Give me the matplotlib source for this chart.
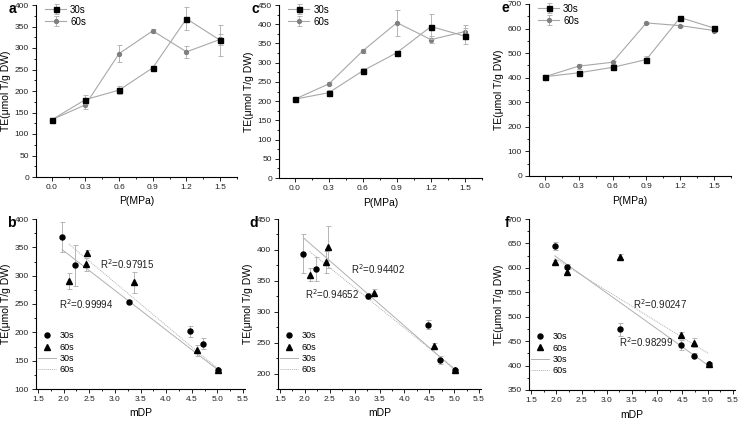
import matplotlib.pyplot as plt
from matplotlib.ticker import MultipleLocator
import numpy as np

plt.rcParams['font.family'] = ['Liberation Sans', 'DejaVu Sans']

# pressure (MPa), shared by the three top panels
pressure = [0.0, 0.3, 0.6, 0.9, 1.2, 1.5]

# panel a / b
a_30 = [133, 180, 202, 254, 368, 318]
a_30_err = [3, 10, 10, 3, 27, 36]
a_60 = [133, 168, 287, 340, 291, 320]
a_60_err = [3, 10, 19, 5, 14, 12]
b_mdp_30 = [5.02, 4.72, 4.47, 3.27, 1.97, 2.22]
b_mdp_60 = [5.02, 4.60, 3.38, 2.46, 2.10, 2.43]
b_y60 = [133, 168, 288, 340, 291, 320]
b_err_60 = [3, 10, 19, 6, 14, 12]
b_fit_30 = (-69.8, 483.5)   # slope, intercept
b_fit_60 = (-75.7, 515.0)
b_r2 = ["R$^2$=0.99994", "R$^2$=0.97915"]

# panel c / d
c_30 = [205, 222, 279, 326, 394, 369]
c_30_err = [3, 7, 7, 5, 32, 20]
c_60 = [205, 245, 331, 404, 360, 381]
c_60_err = [3, 4, 5, 34, 10, 18]
d_mdp_30 = [5.02, 4.72, 4.47, 3.27, 1.97, 2.22]
d_mdp_60 = [5.02, 4.60, 3.38, 2.46, 2.10, 2.43]
d_fit_30 = (-70.2, 558.0)
d_fit_60 = (-65.1, 534.0)
d_r2 = ["R$^2$=0.94652", "R$^2$=0.94402"]

# panel e / f
e_30 = [404, 420, 442, 474, 645, 602]
e_30_err = [4, 5, 10, 14, 8, 5]
e_60 = [404, 447, 463, 623, 612, 592]
e_60_err = [4, 10, 6, 5, 4, 5]
f_mdp_30 = [5.02, 4.72, 4.47, 3.27, 1.97, 2.22]
f_mdp_60 = [5.02, 4.72, 4.47, 3.27, 1.97, 2.22]
f_fit_30 = (-73.8, 770.0)
f_fit_60 = (-63.9, 745.0)
f_r2 = ["R$^2$=0.98299", "R$^2$=0.90247"]

LINE = '#a8a8a8'
GREY = '#7f7f7f'
ERR = '#b5b5b5'
YLABEL = "TE(\u03bcmol T/g DW)"

fig = plt.figure(figsize=(7.55, 4.26), dpi=100)
W, H = 755.0, 426.0


def style(ax):
    for s in ['top', 'right']:
        ax.spines[s].set_visible(False)
    for s in ['left', 'bottom']:
        ax.spines[s].set_linewidth(0.8)
    ax.tick_params(which='major', direction='out', length=3, width=0.7,
                   labelsize=6, colors='#222222', pad=2)
    ax.tick_params(which='minor', direction='out', length=1.6, width=0.6)
    ax.set_ylabel(YLABEL, fontsize=7.5, labelpad=3)


def letter_label(letter, left_px, top_px):
    fig.text((left_px - 20) / W, 1 - (top_px + 4) / H, letter, fontsize=10,
             fontweight='bold', ha='right', va='center')


def top_panel(ax, y30, e30, y60, e60, ymax, ystep):
    ax.errorbar(pressure, y30, yerr=e30, color=LINE, lw=0.8, marker='s',
                ms=3.6, mfc='black', mec='black', ecolor=ERR, elinewidth=0.7,
                capsize=1.8, capthick=0.7, label='30s', zorder=3)
    ax.errorbar(pressure, y60, yerr=e60, color=LINE, lw=0.8, marker='o',
                ms=2.8, mfc=GREY, mec=GREY, ecolor=ERR, elinewidth=0.7,
                capsize=1.8, capthick=0.7, label='60s', zorder=2)
    ax.set_xlim(-0.14, 1.65)
    ax.set_ylim(0, ymax)
    ax.set_xticks(pressure)
    ax.set_xticklabels([f"{p:.1f}" for p in pressure])
    ax.xaxis.set_minor_locator(MultipleLocator(0.15))
    ax.yaxis.set_major_locator(MultipleLocator(ystep))
    ax.yaxis.set_minor_locator(MultipleLocator(ystep / 2))
    style(ax)
    ax.set_xlabel("P(MPa)", fontsize=7.5, labelpad=4)
    ax.legend(loc='upper left', fontsize=7, frameon=False, handlelength=2.2,
              handletextpad=0.4, borderaxespad=0.1, labelspacing=0.2,
              bbox_to_anchor=(0.02, 1.03))


def bottom_panel(ax, x30, y30, e30, x60, y60, e60, fit30, fit60, r2,
                 r2pos, ylim):
    h1 = ax.errorbar(x30, y30, yerr=e30, ls='none', marker='o', ms=3.6,
                     color='black', ecolor=ERR, elinewidth=0.7, capsize=1.8,
                     capthick=0.7, zorder=3)
    h2 = ax.errorbar(x60, y60, yerr=e60, ls='none', marker='^', ms=3.8,
                     color='black', ecolor=ERR, elinewidth=0.7, capsize=1.8,
                     capthick=0.7, zorder=3)
    xs30 = np.array([min(x30), max(x30)])
    xs60 = np.array([min(x60), max(x60)])
    h3, = ax.plot(xs30, fit30[0] * xs30 + fit30[1], color='#b0b0b0', lw=0.7,
                  zorder=2)
    h4, = ax.plot(xs60, fit60[0] * xs60 + fit60[1], color='#b0b0b0', lw=0.7,
                  ls=(0, (1, 1)), zorder=2)
    for txt, (tx, ty) in zip(r2, r2pos):
        ax.text(tx, ty, txt, fontsize=7, color='#222222', va='center')
    ax.set_xlim(1.46, 5.54)
    ax.set_ylim(*ylim)
    ax.xaxis.set_major_locator(MultipleLocator(0.5))
    ax.xaxis.set_minor_locator(MultipleLocator(0.25))
    ax.yaxis.set_major_locator(MultipleLocator(50))
    ax.yaxis.set_minor_locator(MultipleLocator(25))
    style(ax)
    ax.set_xlabel("mDP", fontsize=7.5, labelpad=4)
    ax.legend([h1[0], h2[0], h3, h4], ['30s', '60s', '30s', '60s'],
              loc='lower left', fontsize=6.5, frameon=False, handlelength=2.0,
              handletextpad=0.4, borderaxespad=0.3, labelspacing=0.25,
              bbox_to_anchor=(-0.02, 0.05))


def add(left, top, right, bottom):
    return fig.add_axes([left / W, 1 - bottom / H, (right - left) / W,
                         (bottom - top) / H])


boxes = {
    'a': (36, 5, 237, 177), 'c': (279, 5, 482, 178), 'e': (529, 4, 731, 176),
    'b': (36, 219, 245, 389), 'd': (278, 219, 481, 389),
    'f': (529, 219, 735, 390),
}
axes = {}
for key, box in boxes.items():
    axes[key] = add(*box)
    letter_label(key, box[0], box[1])

top_panel(axes['a'], a_30, a_30_err, a_60, a_60_err, 400, 50)
top_panel(axes['c'], c_30, c_30_err, c_60, c_60_err, 450, 50)
top_panel(axes['e'], e_30, e_30_err, e_60, e_60_err, 700, 100)

bottom_panel(axes['b'], b_mdp_30, a_30, a_30_err, b_mdp_60, b_y60, b_err_60,
             b_fit_30, b_fit_60, b_r2, [(1.91, 250), (2.70, 321)], (100, 400))
bottom_panel(axes['d'], d_mdp_30, c_30, c_30_err, d_mdp_60, c_60, c_60_err,
             d_fit_30, d_fit_60, d_r2, [(2.01, 329), (2.93, 369)], (175, 450))
bottom_panel(axes['f'], f_mdp_30, e_30, e_30_err, f_mdp_60, e_60, e_60_err,
             f_fit_30, f_fit_60, f_r2, [(3.25, 449), (3.52, 526)], (350, 700))

fig.savefig("out.png", dpi=100)
